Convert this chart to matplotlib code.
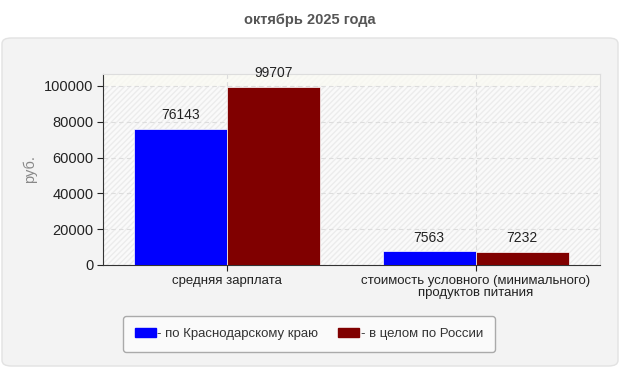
import matplotlib
matplotlib.use("Agg")
import matplotlib.pyplot as plt
import numpy as np
from matplotlib.patches import FancyBboxPatch, Patch

plt.rcParams['font.family'] = ['Liberation Sans', 'DejaVu Sans']

categories = ["средняя зарплата", "стоимость условного (минимального)\nпродуктов питания"]
series_names = ["- по Краснодарскому краю", "- в целом по России"]
krasnodar = [76143, 7563]
russia = [99707, 7232]
colors = ["#0000ff", "#800000"]

fig = plt.figure(figsize=(6.2, 3.7), dpi=100)
fig.patch.set_facecolor("white")

# gray rounded panel behind the chart
panel = FancyBboxPatch((2 / 620, 4 / 370), 616 / 620, 328 / 370,
                       boxstyle="round,pad=0,rounding_size=0.015",
                       transform=fig.transFigure, facecolor="#f3f3f3",
                       edgecolor="#e2e2e2", linewidth=1, zorder=-10)
fig.patches.append(panel)

fig.text(0.5, 1 - 20 / 370, "октябрь 2025 года", ha="center", va="center",
         fontsize=10.5, fontweight="bold", color="#555555")

ax = fig.add_axes([103 / 620, 1 - 265 / 370, 497 / 620, 191 / 370])
ax.set_zorder(1)
ax.set_facecolor("#fafafa")
# faint diagonal hatch on the plot area
bg = plt.Rectangle((0, 0), 1, 1, transform=ax.transAxes, facecolor="#fafafa",
                   edgecolor="#ececec", hatch="//////", linewidth=0, zorder=0)
ax.add_patch(bg)
ax.axhspan(100000, 106700, color="#fafaf3", alpha=0.8, zorder=0.5, linewidth=0)

x = np.arange(len(categories))
w = 0.375
ax.bar(x - w / 2, krasnodar, width=w, color=colors[0], edgecolor="white",
       linewidth=0.5, zorder=3)
ax.bar(x + w / 2, russia, width=w, color=colors[1], edgecolor="white",
       linewidth=0.5, zorder=3)

for xi, v in zip(x - w / 2, krasnodar):
    ax.annotate(str(v), (xi, v), xytext=(0, 5), textcoords="offset points",
                ha="center", va="bottom", fontsize=10, color="#222222")
for xi, v in zip(x + w / 2, russia):
    ax.annotate(str(v), (xi, v), xytext=(0, 5), textcoords="offset points",
                ha="center", va="bottom", fontsize=10, color="#222222")

ax.set_xlim(-0.5, 1.5)
ax.set_ylim(0, 106700)
ax.set_yticks([0, 20000, 40000, 60000, 80000, 100000])
ax.set_xticks(x)
ax.set_xticklabels(categories, fontsize=9.5, color="#222222", linespacing=0.95)
ax.tick_params(axis="y", labelsize=10.5, colors="#222222", length=4, pad=3)
ax.tick_params(axis="x", length=4, colors="#222222")
ax.grid(True, linestyle=(0, (4, 3)), color="#dddddd", linewidth=0.8, zorder=1)
ax.set_axisbelow(True)

for s in ["top", "right"]:
    ax.spines[s].set_color("#dddddd")
for s in ["left", "bottom"]:
    ax.spines[s].set_color("#333333")

ax.set_ylabel("руб.", fontsize=10.5, color="#888888", labelpad=5)

handles = [Patch(facecolor=c, edgecolor=c) for c in colors]
leg = fig.legend(handles, series_names, loc="center",
                 bbox_to_anchor=(309 / 620, 1 - 334 / 370), ncol=2,
                 fontsize=9.5, frameon=True, fancybox=True,
                 handlelength=1.6, handleheight=0.6, handletextpad=0.1,
                 columnspacing=1.5, borderpad=0.9)
leg.get_frame().set_facecolor("#fafafa")
leg.get_frame().set_edgecolor("#aaaaaa")
leg.get_frame().set_alpha(1)
for t in leg.get_texts():
    t.set_color("#333333")

fig.savefig("out.png", dpi=100)
